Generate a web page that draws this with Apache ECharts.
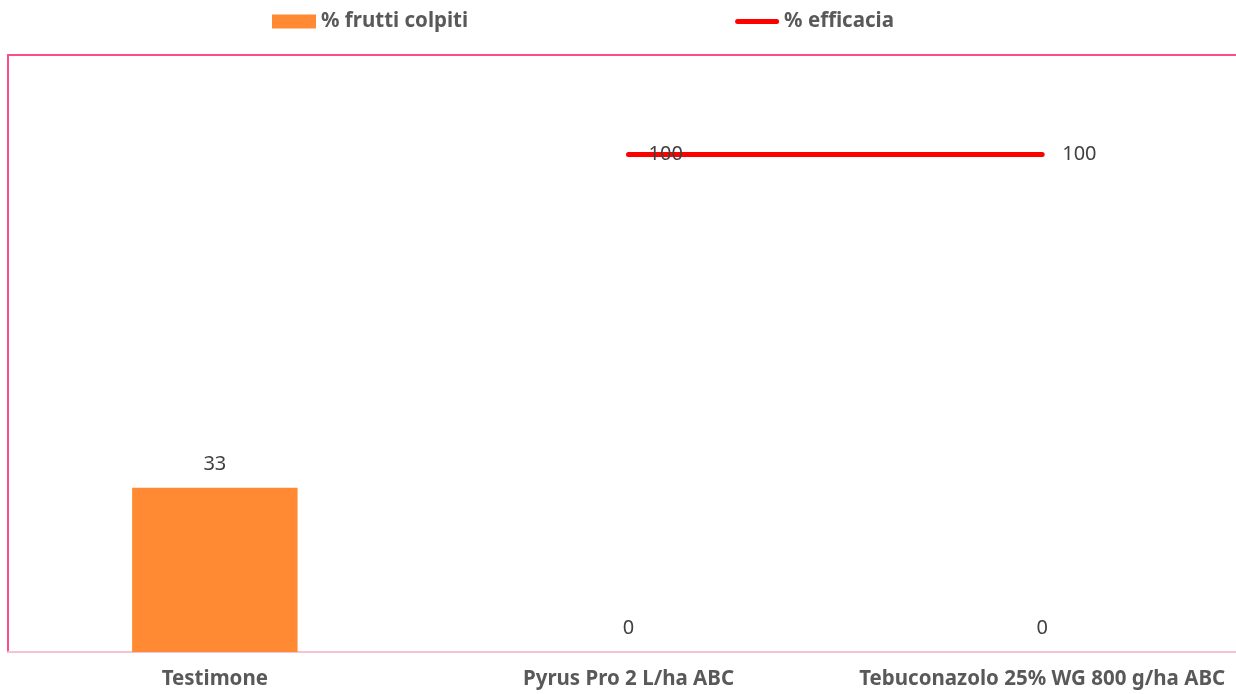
<!DOCTYPE html>
<html>
<head>
<meta charset="utf-8">
<script src="https://cdn.jsdelivr.net/npm/echarts@6/dist/echarts.min.js"></script>
<style>
  html, body { margin: 0; padding: 0; background: #fff; }
  #chart { width: 1236px; height: 694px; }
</style>
</head>
<body>
<div id="chart"></div>
<script>
// data
const categories = ['Testimone', 'Pyrus Pro 2 L/ha ABC', 'Tebuconazolo 25% WG 800 g/ha ABC'];
const fruttiColpiti = [33, 0, 0];
const efficacia = [null, 100, 100];

const chart = echarts.init(document.getElementById('chart'), null, { renderer: 'canvas' });

const font = '"Noto Sans", sans-serif';

chart.setOption({
  animation: false,
  backgroundColor: '#ffffff',
  textStyle: { fontFamily: font },
  legend: {
    top: 6,
    left: 267,
    itemGap: 267,
    itemWidth: 44,
    itemHeight: 14,
    textStyle: { fontSize: 20.5, fontWeight: 'bold', color: '#595959', fontFamily: font },
    data: [
      { name: '% frutti colpiti', icon: 'rect' },
      { name: '% efficacia', icon: 'path://M2.5,0 H41.5 A2.5,2.5 0 0 1 41.5,5 H2.5 A2.5,2.5 0 0 1 2.5,0 Z' }
    ]
  },
  grid: { left: 8, right: -13, top: 55, bottom: 42, containLabel: false, outerBoundsMode: 'none' },
  xAxis: [{
    type: 'category',
    data: categories,
    position: 'bottom',
    axisLine: { show: true, lineStyle: { color: '#f4c3d3', width: 2 } },
    axisTick: { show: false },
    axisLabel: { fontSize: 20.5, fontWeight: 'bold', color: '#595959', margin: 17, interval: 0 }
  }, {
    type: 'category',
    data: categories,
    position: 'top',
    axisLine: { show: true, lineStyle: { color: '#ff4d88', width: 2 } },
    axisTick: { show: false },
    axisLabel: { show: false }
  }],
  yAxis: {
    type: 'value',
    min: 0,
    max: 120,
    axisLine: { show: true, lineStyle: { color: '#ff4d88', width: 2 } },
    axisTick: { show: false },
    axisLabel: { show: false },
    splitLine: { show: false }
  },
  series: [{
    name: '% frutti colpiti',
    type: 'bar',
    data: fruttiColpiti,
    barWidth: '40%',
    itemStyle: { color: '#ff8a33' },
    label: { show: true, position: 'top', distance: 14, fontSize: 20, color: '#404040' }
  }, {
    name: '% efficacia',
    type: 'line',
    data: efficacia,
    symbol: 'circle',
    symbolSize: 0.1,
    showSymbol: true,
    lineStyle: { color: '#ff0000', width: 5, cap: 'round' },
    itemStyle: { color: '#ff0000' },
    label: { show: true, position: 'right', distance: 20, fontSize: 20, color: '#404040' }
  }]
});
</script>
</body>
</html>
